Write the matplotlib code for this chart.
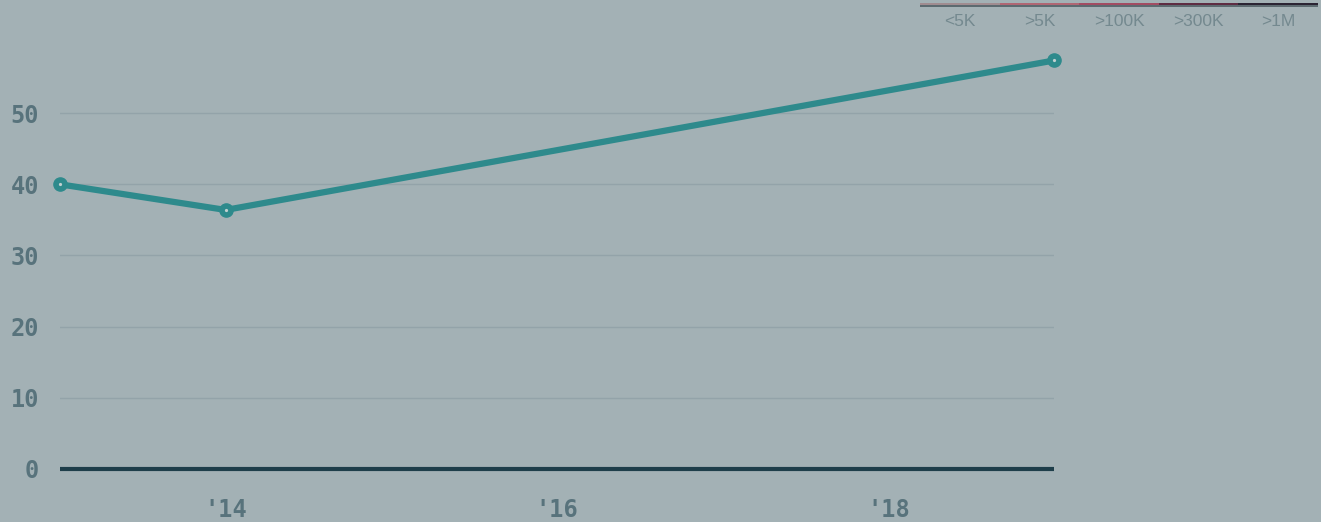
import matplotlib.pyplot as plt
from matplotlib.patches import Rectangle

# Dados
anos = [2013, 2014, 2019]
valores = [40.0, 36.4, 57.4]
yticks = [0, 10, 20, 30, 40, 50]
xticks = [2014, 2016, 2018]
xlabels = ["'14", "'16", "'18"]
legenda_rotulos = ["<5K", ">5K", ">100K", ">300K", ">1M"]
legenda_cores = ["#a08c90", "#b06673", "#a24c62", "#5e2c42", "#2b2433"]

bg = "#a3b1b5"
tick_cor = "#58737c"

W, H = 1321, 522
fig = plt.figure(figsize=(W / 100, H / 100), dpi=100, facecolor=bg)

# Eixo principal (em pixels)
ax = fig.add_axes([60 / W, 53 / H, (1054 - 60) / W, 469 / H])
ax.set_facecolor(bg)
ax.set_xlim(2013, 2019)
ax.set_ylim(0, 65.9)
for s in ax.spines.values():
    s.set_visible(False)

for y in yticks[1:]:
    ax.axhline(y, color="#93a3a9", lw=1, zorder=1)
ax.axhline(0, color="#1e3e4a", lw=3, zorder=3, clip_on=False, solid_capstyle="butt")

ax.plot(anos, valores, color="#2e8a8c", lw=4.5, zorder=4, clip_on=False)
ax.plot(anos, valores, "o", ms=9.5, color="#2e8a8c", zorder=5, clip_on=False)
ax.plot(anos, valores, "o", ms=1.3, color="#c0d0d0", zorder=6, clip_on=False)

ax.set_yticks(yticks)
ax.set_yticklabels([str(v) for v in yticks])
ax.set_xticks(xticks)
ax.set_xticklabels(xlabels)
ax.tick_params(length=0, labelcolor=tick_cor, labelsize=17)
ax.tick_params(axis="y", pad=15)
ax.tick_params(axis="x", pad=21)
for lab in ax.get_xticklabels() + ax.get_yticklabels():
    lab.set_fontfamily("DejaVu Sans Mono")
    lab.set_fontweight("bold")

# Legenda de barra no topo
x0, larg = 920, 79.6
for i, (rot, cor) in enumerate(zip(legenda_rotulos, legenda_cores)):
    xa = x0 + i * larg
    fig.patches.append(Rectangle((xa / W, (H - 5.5) / H), larg / W, 2.5 / H,
                                 transform=fig.transFigure, color=cor, lw=0))
    fig.text((xa + larg / 2) / W, (H - 21) / H, rot, ha="center", va="center",
             fontsize=12.5, color="#74898f", family="Liberation Sans")
fig.patches.append(Rectangle((x0 / W, (H - 6.5) / H), (5 * larg) / W, 1 / H,
                             transform=fig.transFigure, color="#5c6a70", lw=0))

fig.savefig("out.png", dpi=100, facecolor=bg)
